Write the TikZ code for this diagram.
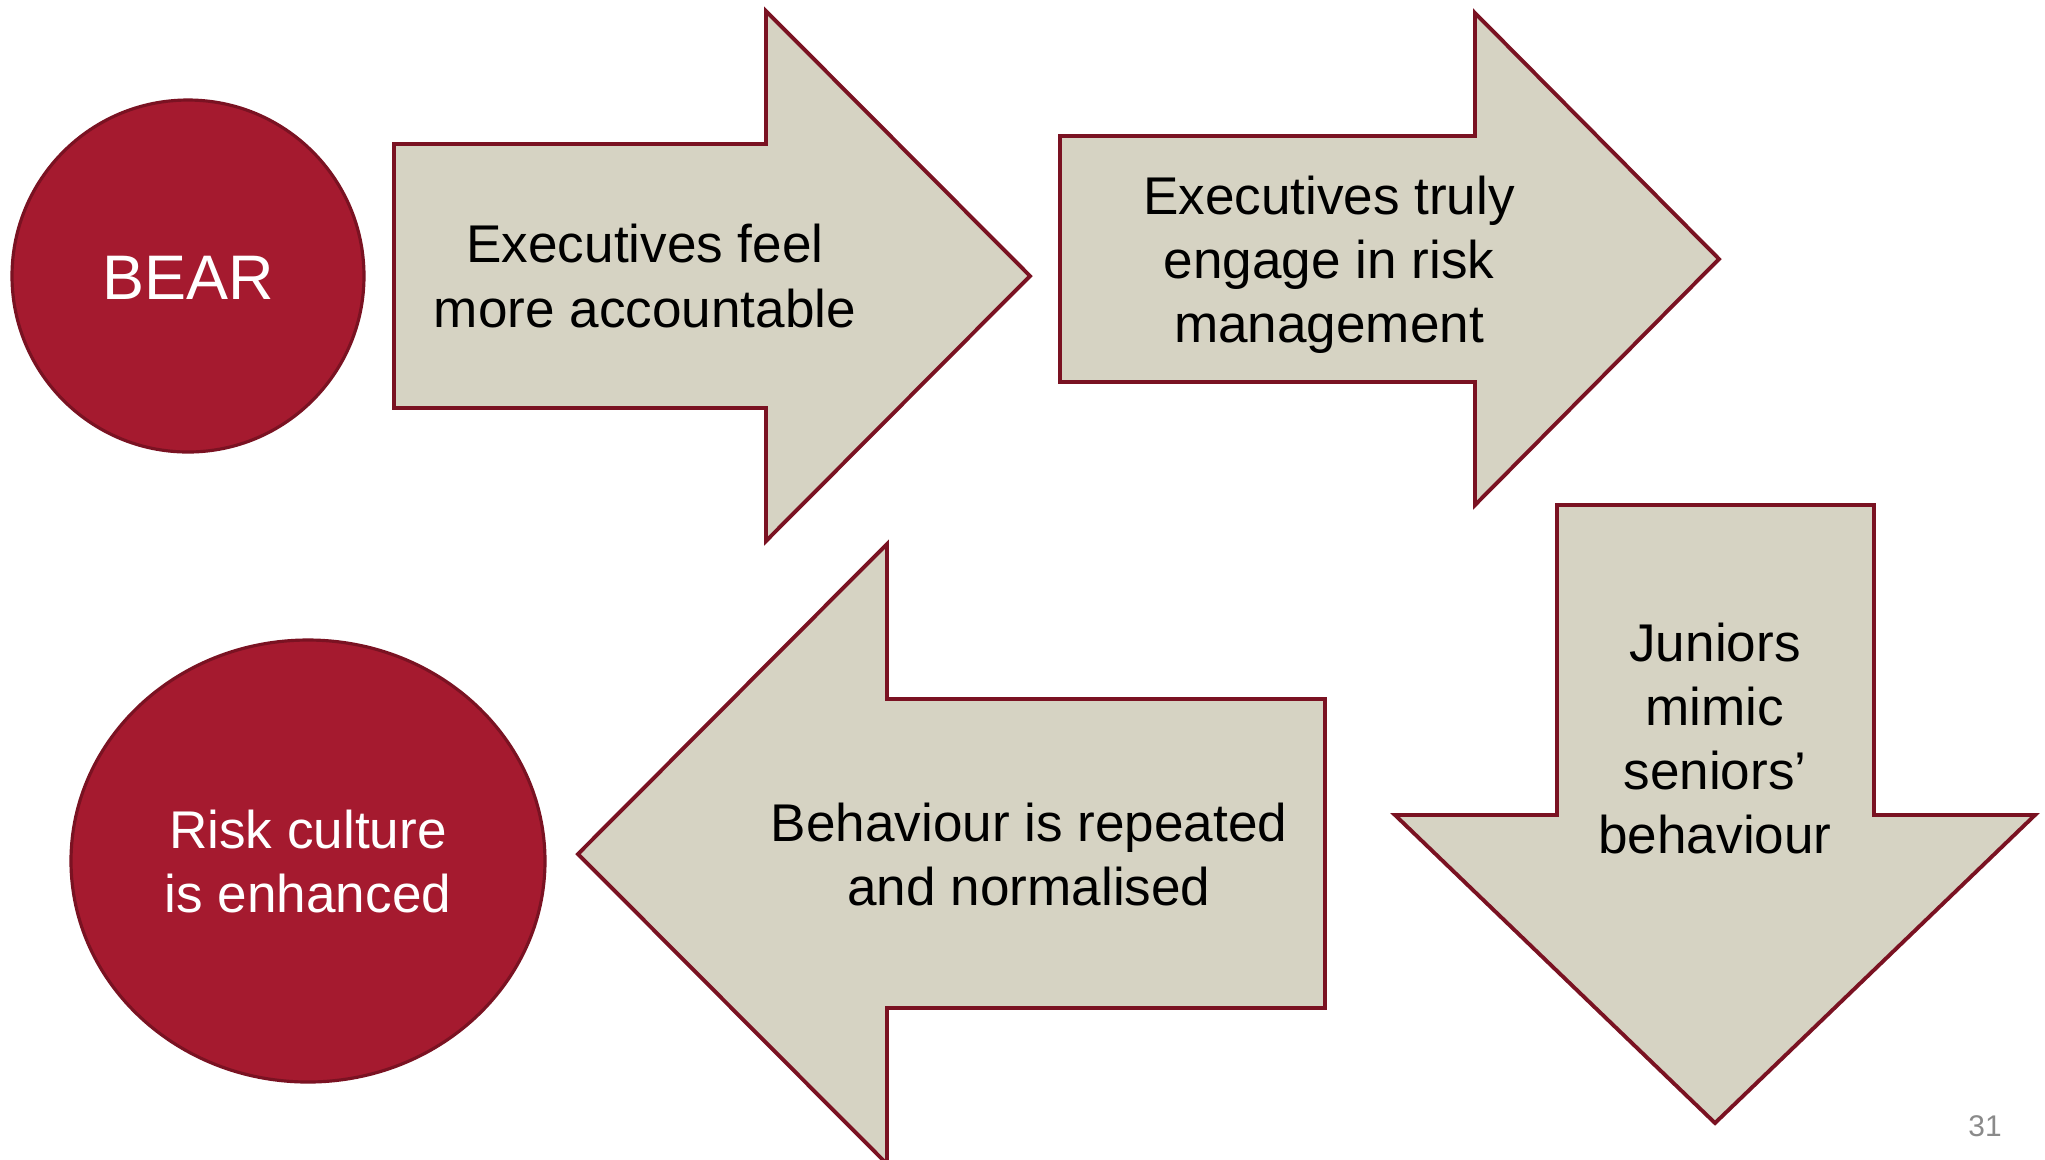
\documentclass[tikz,border=0pt]{standalone}
\usepackage{fontspec}
\setmainfont{Liberation Sans}
\definecolor{bearred}{HTML}{A51A2F}
\definecolor{bearedge}{HTML}{7A1222}
\definecolor{stepfill}{HTML}{D6D3C3}
\definecolor{pagegray}{HTML}{8A8A8A}

\tikzset{
  arrowshape/.style={fill=stepfill, draw=bearedge, line width=1.1pt, line join=miter},
  bubble/.style={fill=bearred, draw=bearedge, line width=0.9pt},
  steptext/.style={align=center, font=\fontsize{15.1}{18.2}\selectfont, text=black},
  bubbletext/.style={align=center, font=\fontsize{15.1}{18.2}\selectfont, text=white}
}

\begin{document}
\begin{tikzpicture}[x=0.01cm, y=-0.01cm]
  \clip (0,0) rectangle (2045,1159);
  \fill[white] (0,0) rectangle (2045,1159);

  % start and end bubbles
  \fill[bubble] (188,276) circle [radius=176];
  \fill[bubble] (308,861) ellipse [x radius=237, y radius=221];

  % arrow to the right, top row
  \draw[arrowshape] (394,144) -- (766,144) -- (766,11) -- (1030,276)
    -- (766,541) -- (766,408) -- (394,408) -- cycle;
  \draw[arrowshape] (1060,136) -- (1475,136) -- (1475,13) -- (1719,259)
    -- (1475,505) -- (1475,382) -- (1060,382) -- cycle;

  % arrow down, right side
  \draw[arrowshape] (1557,505) -- (1874,505) -- (1874,815) -- (2035,815)
    -- (1715,1123) -- (1395,815) -- (1557,815) -- cycle;

  % arrow back to the left, bottom row
  \draw[arrowshape] (1325,699) -- (887,699) -- (887,544) -- (578,854)
    -- (887,1164) -- (887,1008) -- (1325,1008) -- cycle;

  % labels
  \node[bubbletext, font=\fontsize{17.9}{21}\selectfont] (bear) at (188,278) {BEAR};
  \node[steptext] (accountable) at (645,276) {Executives feel\\more accountable};
  \node[steptext] (engage) at (1329,265) {Executives truly\\engage in risk\\management};
  \node[steptext] (mimic) at (1715,738) {Juniors\\mimic\\seniors’\\behaviour};
  \node[steptext] (repeated) at (1029,854) {Behaviour is repeated\\and normalised};
  \node[bubbletext] (culture) at (308,861) {Risk culture\\is enhanced};

  % slide number
  \node[text=pagegray, font=\fontsize{8.5}{10}\selectfont] (pagenum) at (1985,1126) {31};
\end{tikzpicture}
\end{document}
